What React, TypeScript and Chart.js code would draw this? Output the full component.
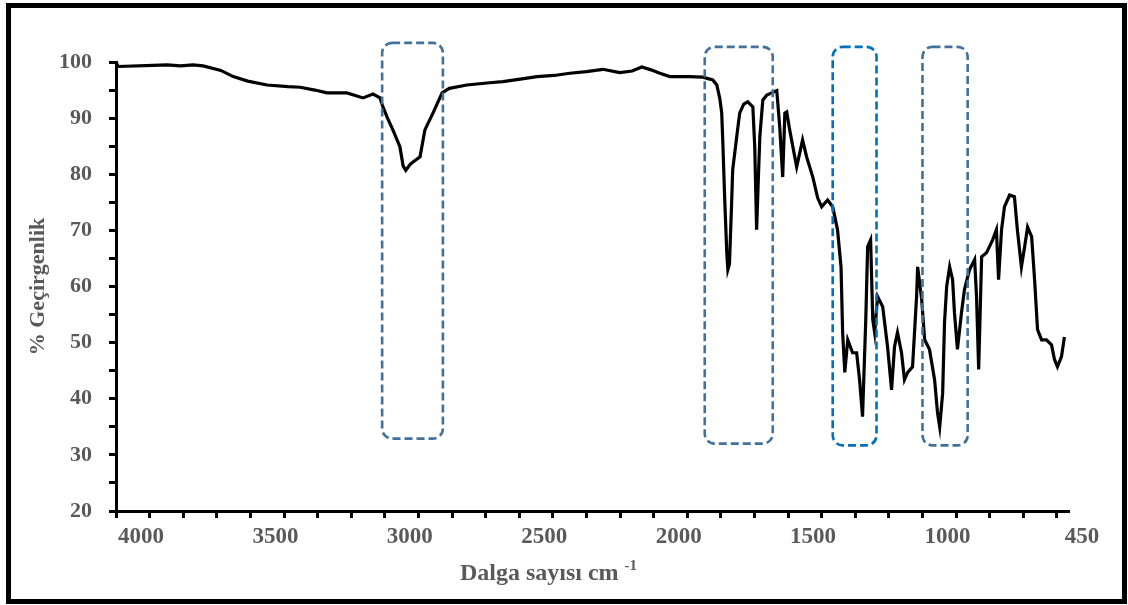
import React, { useEffect, useRef } from 'react';
import { Chart, registerables } from 'chart.js';

Chart.register(...registerables);

// Wavenumber (cm-1) of each sampled point of the FTIR spectrum
const wavenumbers = [
  4088, 4082, 3952, 3900, 3850, 3803, 3766, 3700, 3654, 3600, 3528, 3450, 3405, 3350, 3305, 3231, 3171, 3134, 3108,
  3097, 3080, 3060, 3034, 3022, 3012, 2995, 2985, 2959, 2941, 2911, 2877, 2850, 2785, 2700, 2651, 2580, 2524, 2460,
  2402, 2340, 2279, 2216, 2170, 2134, 2100, 2067, 2030, 1960, 1907, 1870, 1855, 1844, 1837, 1833, 1826, 1818, 1814,
  1808, 1800, 1796, 1781, 1770, 1755, 1740, 1721, 1714, 1707, 1700, 1695, 1684, 1669, 1651, 1632, 1621, 1610, 1602,
  1595, 1584, 1558, 1536, 1521, 1498, 1480, 1465, 1443, 1424, 1406, 1393, 1387, 1379, 1368, 1350, 1335, 1324, 1313,
  1301, 1294, 1283, 1275, 1268, 1257, 1238, 1220, 1205, 1194, 1183, 1168, 1157, 1145, 1127, 1112, 1108, 1093, 1082,
  1064, 1045, 1034, 1026, 1015, 1008, 1000, 989, 978, 971, 960, 945, 934, 915, 896, 889, 881, 870, 852, 829, 815,
  807, 796, 785, 766, 748, 737, 722, 710, 699, 684, 673, 662, 647, 629, 610, 599, 588, 573, 562,
];

// % transmittance at each wavenumber
const transmittance = [
  99.8, 99.2, 99.4, 99.5, 99.3, 99.5, 99.3, 98.5, 97.4, 96.6, 95.9, 95.6, 95.5, 95.0, 94.5, 94.5, 93.6, 94.3, 93.6,
  92.0, 90.0, 87.9, 84.9, 81.5, 80.7, 81.8, 82.2, 83.1, 87.9, 90.9, 94.5, 95.3, 95.9, 96.3, 96.5, 97.0, 97.4, 97.6,
  98.0, 98.3, 98.7, 98.1, 98.4, 99.1, 98.6, 98.0, 97.4, 97.4, 97.3, 96.8, 95.9, 93.5, 91.0, 86.1, 76.0, 66.0, 63.0,
  64.0, 74.9, 80.8, 86.7, 90.9, 92.5, 92.9, 92.0, 84.9, 70.1, 80.0, 86.7, 93.2, 94.1, 94.5, 94.9, 88.4, 79.5, 90.9,
  91.1, 87.9, 81.3, 86.1, 83.1, 79.5, 75.8, 74.2, 75.4, 74.2, 70.1, 63.5, 51.8, 44.7, 50.5, 48.2, 48.2, 43.4, 36.8,
  54.1, 67.1, 68.3, 54.1, 51.8, 58.2, 56.4, 49.3, 41.6, 49.3, 51.8, 48.2, 43.4, 44.7, 45.7, 58.2, 63.5, 57.7, 50.5,
  48.8, 43.4, 37.5, 35.0, 41.0, 53.6, 60.0, 63.5, 61.2, 55.3, 48.8, 55.3, 59.4, 63.0, 64.8, 58.2, 45.2, 65.3, 66.0, 68.3, 70.1,
  61.2, 70.1, 74.2, 76.3, 76.0, 70.1, 63.5, 67.1, 70.6, 68.9, 61.2, 52.3, 50.5, 50.5, 49.6, 47.0, 45.7, 47.5, 51.0,
];

// x axis: tick marks every 125 cm-1 from the axis start, a label on every 4th mark
const xAxisStart = 4090;
const xAxisEnd = 545;
const xTickStep = 125;
const xTickCount = 29;
const xTickLabels = ['4000', '3500', '3000', '2500', '2000', '1500', '1000', '450'];

// y axis
const yMin = 20;
const yMax = 100;
const yTickStep = 5;

// highlighted regions (dashed boxes) in data units
const boxFrom = [3100, 1900, 1424, 1090];
const boxTo = [2874, 1647, 1261, 922];
const boxTop = [103.4, 102.7, 102.7, 102.7];
const boxBottom = [32.9, 32.0, 31.7, 31.7];
const boxColors = ['#41719C', '#41719C', '#0070C0', '#41719C'];

const xTitle = 'Dalga sayısı cm';
const xTitleSup = '-1';
const yTitle = '% Geçirgenlik';

const SERIF = '"Liberation Serif", "Times New Roman", serif';
const LABEL_GRAY = '#595959';

export default function App() {
  const canvasRef = useRef<HTMLCanvasElement | null>(null);

  useEffect(() => {
    const canvas = canvasRef.current;
    if (!canvas) return;

    const points = wavenumbers.map((w, i) => ({ x: w, y: transmittance[i] }));

    const boxesPlugin = {
      id: 'regionBoxes',
      afterDatasetsDraw(chart: any) {
        const { ctx, scales } = chart;
        const xs = scales.x;
        const ys = scales.y;
        ctx.save();
        for (let i = 0; i < boxFrom.length; i++) {
          const x1 = xs.getPixelForValue(boxFrom[i]);
          const x2 = xs.getPixelForValue(boxTo[i]);
          const y1 = ys.getPixelForValue(boxTop[i]);
          const y2 = ys.getPixelForValue(boxBottom[i]);
          const l = Math.min(x1, x2);
          const t = Math.min(y1, y2);
          const w = Math.abs(x2 - x1);
          const h = Math.abs(y2 - y1);
          ctx.beginPath();
          ctx.setLineDash([8, 4]);
          ctx.lineWidth = 2.6;
          ctx.strokeStyle = boxColors[i];
          if (ctx.roundRect) ctx.roundRect(l, t, w, h, 10);
          else ctx.rect(l, t, w, h);
          ctx.stroke();
        }
        ctx.restore();
      },
    };

    const xTitlePlugin = {
      id: 'xTitleSup',
      afterDraw(chart: any) {
        const { ctx, chartArea } = chart;
        ctx.save();
        ctx.fillStyle = LABEL_GRAY;
        ctx.textBaseline = 'alphabetic';
        ctx.textAlign = 'left';
        ctx.font = `bold 24px ${SERIF}`;
        const w1 = ctx.measureText(xTitle + ' ').width;
        ctx.font = `bold 15px ${SERIF}`;
        const w2 = ctx.measureText(xTitleSup).width;
        const cx = (chartArea.left + chartArea.right) / 2 - 44;
        const x0 = cx - (w1 + w2) / 2;
        const base = chartArea.bottom + 69;
        ctx.font = `bold 24px ${SERIF}`;
        ctx.fillText(xTitle, x0, base);
        ctx.font = `bold 15px ${SERIF}`;
        ctx.fillText(xTitleSup, x0 + w1, base - 10);
        ctx.restore();
      },
    };

    const chart = new Chart(canvas, {
      type: 'line',
      data: {
        datasets: [
          {
            data: points,
            borderColor: '#000000',
            borderWidth: 3.2,
            pointRadius: 0,
            tension: 0,
            fill: false,
          },
        ],
      },
      options: {
        animation: false,
        responsive: false,
        maintainAspectRatio: false,
        parsing: false as any,
        layout: { padding: { top: 62, right: 59, bottom: 0, left: 0 } },
        plugins: {
          legend: { display: false },
          tooltip: { enabled: false },
        },
        scales: {
          x: {
            type: 'linear',
            reverse: true,
            min: xAxisEnd,
            max: xAxisStart,
            afterBuildTicks: (scale: any) => {
              const t = [];
              for (let k = 0; k < xTickCount; k++) t.push({ value: xAxisStart - k * xTickStep });
              scale.ticks = t;
            },
            afterFit: (scale: any) => {
              scale.height = 94;
            },
            ticks: {
              autoSkip: false,
              maxRotation: 0,
              minRotation: 0,
              labelOffset: 25,
              padding: 5,
              color: LABEL_GRAY,
              font: { family: SERIF, size: 23, weight: 'bold' },
              callback: (_v: any, i: number) => (i % 4 === 0 ? xTickLabels[i / 4] : ''),
            },
            grid: {
              drawOnChartArea: false,
              drawTicks: true,
              tickLength: 7,
              tickWidth: 3,
              tickColor: '#000000',
              color: '#000000',
            },
            border: { display: true, color: '#000000', width: 3 },
          },
          y: {
            type: 'linear',
            min: yMin,
            max: yMax,
            afterFit: (scale: any) => {
              scale.width = 116;
            },
            ticks: {
              stepSize: yTickStep,
              autoSkip: false,
              padding: 17,
              color: LABEL_GRAY,
              font: { family: SERIF, size: 22, weight: 'bold' },
              callback: (v: any) => (Number(v) % 10 === 0 ? String(v) : ''),
            },
            grid: {
              drawOnChartArea: false,
              drawTicks: true,
              tickLength: 7,
              tickWidth: 3,
              tickColor: '#000000',
              color: '#000000',
            },
            border: { display: true, color: '#000000', width: 3 },
            title: {
              display: true,
              text: yTitle,
              color: LABEL_GRAY,
              font: { family: SERIF, size: 22, weight: 'bold' },
              padding: { top: 25, bottom: 0 },
            },
          },
        },
      },
      plugins: [boxesPlugin, xTitlePlugin],
    } as any);

    return () => {
      chart.destroy();
    };
  }, []);

  return (
    <div style={{ position: 'absolute', left: 0, top: 0, width: 1128, height: 605, background: '#ffffff' }}>
      <canvas ref={canvasRef} width={1128} height={605} style={{ position: 'absolute', left: 0, top: 0 }} />
      <div
        style={{
          position: 'absolute',
          left: 6,
          top: 3,
          width: 1121,
          height: 601,
          border: '5px solid #000',
          boxSizing: 'border-box',
          pointerEvents: 'none',
        }}
      />
    </div>
  );
}
